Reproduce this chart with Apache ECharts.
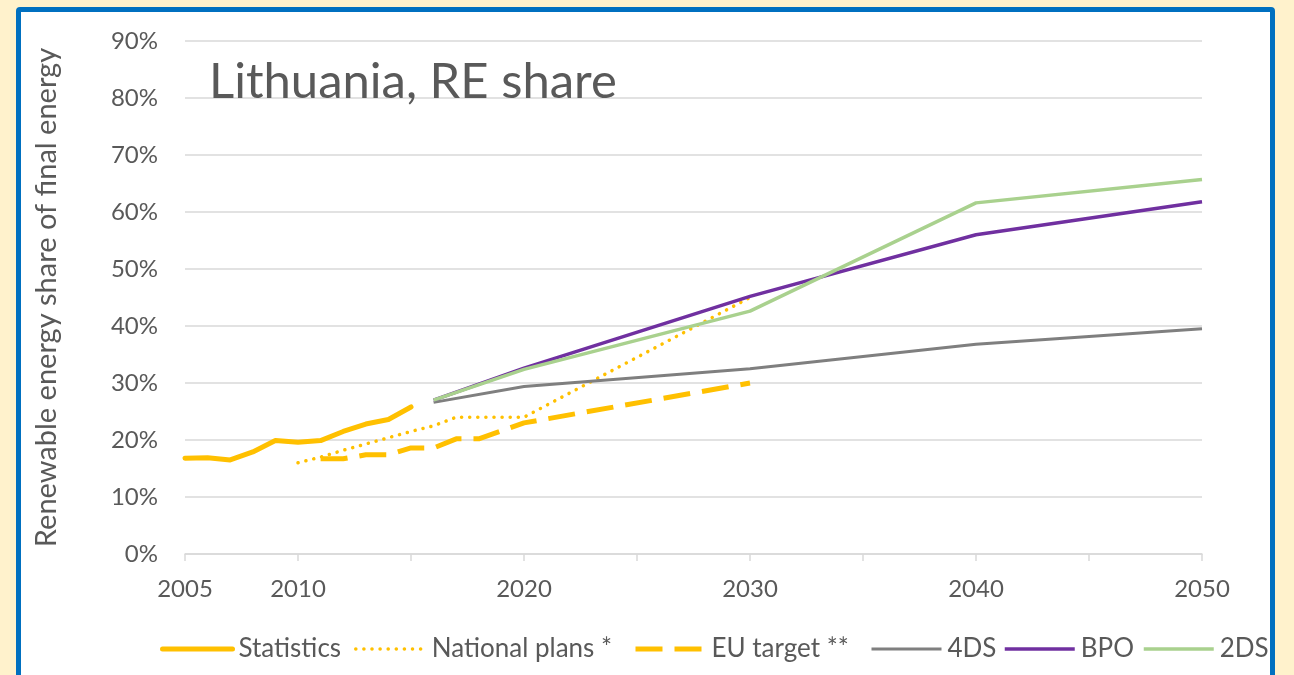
<!DOCTYPE html>
<html>
<head>
<meta charset="utf-8">
<script src="https://cdn.jsdelivr.net/npm/echarts@6/dist/echarts.min.js"></script>
<style>
  html, body { margin: 0; padding: 0; width: 1294px; height: 675px; overflow: hidden; background: #fff2cc; }
  #frame { position: absolute; left: 16px; top: 7px; width: 1249px; height: 700px; border: 5px solid #0070c0; border-radius: 4px; background: #ffffff; }
  #chart { position: absolute; left: 0; top: 0; width: 1294px; height: 675px; }
</style>
</head>
<body>
<div id="frame"></div>
<div id="chart"></div>
<script>
// ---- data ----
const statYears = [2005, 2006, 2007, 2008, 2009, 2010, 2011, 2012, 2013, 2014, 2015];
const statValues = [16.8, 16.9, 16.5, 17.9, 19.9, 19.6, 19.9, 21.5, 22.8, 23.6, 25.8];

const natYears = [2010, 2011, 2012, 2013, 2014, 2015, 2016, 2017, 2018, 2019, 2020, 2030];
const natValues = [16.0, 17.0, 18.2, 19.3, 20.4, 21.5, 22.5, 24.0, 24.0, 24.0, 24.0, 45.0];

const euYears = [2011, 2012, 2013, 2014, 2015, 2016, 2017, 2018, 2020, 2030];
const euValues = [16.7, 16.7, 17.4, 17.4, 18.6, 18.6, 20.2, 20.2, 23.0, 30.0];

const scenYears = [2016, 2020, 2030, 2040, 2050];
const ds4Values = [26.6, 29.4, 32.5, 36.8, 39.5];
const bpoValues = [27.0, 32.6, 45.2, 56.0, 61.8];
const ds2Values = [27.0, 32.4, 42.6, 61.6, 65.7];

const xLabelYears = [2005, 2010, 2020, 2030, 2040, 2050];
const yTicks = [0, 10, 20, 30, 40, 50, 60, 70, 80, 90];

const seriesNames = ['Statistics', 'National plans *', 'EU target **', '4DS', 'BPO', '2DS'];

// ---- chart ----
const FONT = 'Lato';
const TXT = '#595959';
const zip = (xs, ys) => xs.map((x, i) => [x, ys[i]]);

const chart = echarts.init(document.getElementById('chart'), null, { renderer: 'canvas' });

const lineWidths = [5, 3.5, 5, 3, 3.5, 3.5];

function mk(name, data, color, width, type, cap) {
  return {
    name: name,
    type: 'line',
    data: data,
    symbol: 'none',
    showSymbol: false,
    smooth: false,
    lineStyle: { color: color, width: width, type: type, cap: cap || 'butt', join: 'round' },
    itemStyle: { color: color },
    emphasis: { disabled: true },
    animation: false
  };
}

// one legend per entry so each sits where the reference puts it
const legendLefts = [160, 354, 633, 870, 1003, 1142];
const legends = seriesNames.map((n, i) => ({
  show: true,
  left: legendLefts[i],
  top: 636,
  padding: 0,
  itemWidth: 70,
  itemHeight: 14,
  itemGap: 0,
  selectedMode: false,
  itemStyle: { opacity: 0, borderWidth: 0 },
  lineStyle: { width: lineWidths[i] },
  textStyle: { fontSize: 26, color: TXT, fontFamily: FONT, padding: [0, 0, 0, 1] },
  data: [n]
}));

chart.setOption({
  animation: false,
  backgroundColor: 'transparent',
  textStyle: { fontFamily: FONT, color: TXT },
  grid: { left: 185, right: 92, top: 41, bottom: 121, containLabel: false },
  xAxis: {
    type: 'value',
    min: 2005,
    max: 2050,
    interval: 5,
    axisLine: { show: true, lineStyle: { color: '#d9d9d9', width: 1.5 } },
    axisTick: { show: true, length: 7, lineStyle: { color: '#d9d9d9', width: 1.5 } },
    splitLine: { show: false },
    axisLabel: {
      margin: 23,
      fontSize: 24,
      color: TXT,
      fontFamily: FONT,
      formatter: v => xLabelYears.indexOf(v) >= 0 ? String(v) : ''
    }
  },
  yAxis: {
    type: 'value',
    min: yTicks[0],
    max: yTicks[yTicks.length - 1],
    interval: 10,
    name: 'Renewable energy share of final energy',
    nameLocation: 'middle',
    nameGap: 124,
    nameRotate: 90,
    nameTextStyle: { fontSize: 29, color: TXT, fontFamily: FONT },
    axisLine: { show: false },
    axisTick: { show: false },
    splitLine: { show: true, lineStyle: { color: '#d9d9d9', width: 1.5 } },
    axisLabel: { margin: 27, fontSize: 24, color: TXT, fontFamily: FONT, formatter: v => v + '%' }
  },
  legend: legends,
  graphic: [{
    type: 'text',
    left: 209,
    top: 58,
    z: 10,
    style: { text: 'Lithuania, RE share', fontSize: 49, fontFamily: FONT, fill: TXT }
  }],
  series: [
    mk(seriesNames[0], zip(statYears, statValues), '#ffc000', lineWidths[0], 'solid', 'round'),
    mk(seriesNames[1], zip(natYears, natValues), '#ffc000', lineWidths[1], [0.1, 8], 'round'),
    mk(seriesNames[2], zip(euYears, euValues), '#ffc000', lineWidths[2], [27, 12], 'butt'),
    mk(seriesNames[3], zip(scenYears, ds4Values), '#7f7f7f', lineWidths[3], 'solid'),
    mk(seriesNames[4], zip(scenYears, bpoValues), '#7030a0', lineWidths[4], 'solid'),
    mk(seriesNames[5], zip(scenYears, ds2Values), '#a9d18e', lineWidths[5], 'solid')
  ]
});
</script>
</body>
</html>
